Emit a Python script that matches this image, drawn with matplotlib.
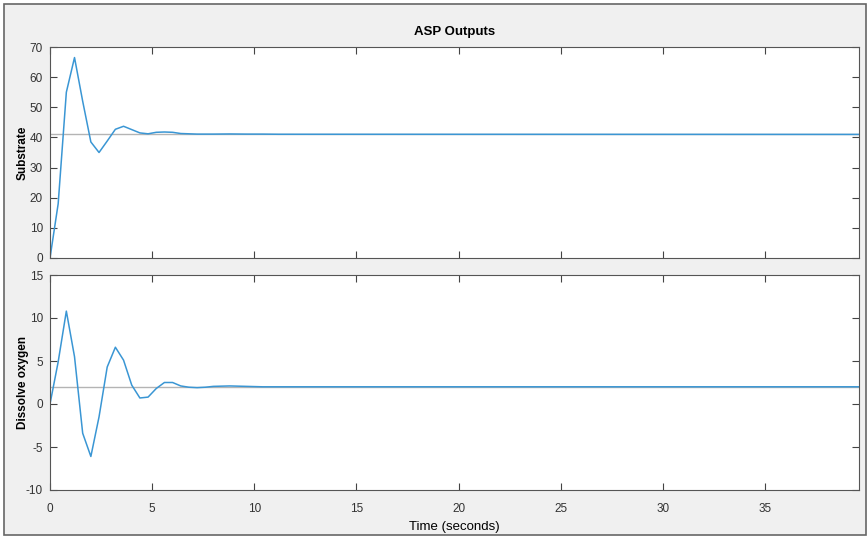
import matplotlib.pyplot as plt
from matplotlib.patches import Rectangle

# Simulation output (time step ~0.4 s)
time_s = [0, 0.4, 0.8, 1.2, 1.6, 2.0, 2.4, 2.8, 3.2, 3.6, 4.0, 4.4, 4.8, 5.2,
          5.6, 6.0, 6.4, 6.8, 7.2, 7.6, 8.0, 8.8, 9.6, 10.4, 11.2, 39.6]
substrate = [0, 18, 55, 66.5, 52, 38.5, 35, 38.8, 42.7, 43.7, 42.6, 41.5, 41.2, 41.7,
             41.8, 41.7, 41.3, 41.2, 41.1, 41.1, 41.1, 41.15, 41.1, 41.1, 41.05, 41.0]
oxygen = [0, 4.9, 10.8, 5.5, -3.4, -6.1, -1.5, 4.3, 6.6, 5.1, 2.2, 0.7, 0.8, 1.8,
          2.5, 2.5, 2.1, 1.95, 1.9, 1.95, 2.05, 2.1, 2.05, 2.0, 2.0, 2.0]
substrate_ref = 41.0
oxygen_ref = 2.0
xticks = [0, 5, 10, 15, 20, 25, 30, 35]

plt.rcParams['font.family'] = ['Liberation Sans', 'DejaVu Sans']
plt.rcParams['axes.unicode_minus'] = False

fig = plt.figure(figsize=(8.68, 5.37), dpi=100, facecolor='white')
fig.patches.append(Rectangle((4 / 868, 2 / 537), 862 / 868, 531 / 537,
                             transform=fig.transFigure, facecolor='#f0f0f0',
                             edgecolor='#666666', linewidth=1.2, zorder=-1))

ax_top = fig.add_axes([50 / 868, 1 - 258 / 537, 809 / 868, 211 / 537])
ax_bot = fig.add_axes([50 / 868, 1 - 490 / 537, 809 / 868, 215 / 537])

line_c = '#3a96d4'
ref_c = '#b4b4b4'

ax_top.axhline(substrate_ref, color=ref_c, linewidth=1)
ax_top.plot(time_s, substrate, color=line_c, linewidth=1.1)
ax_top.set_ylim(0, 70)
ax_top.set_yticks(range(0, 71, 10))
ax_top.set_ylabel('Substrate', fontweight='bold', fontsize=8.5)
ax_top.set_title('ASP Outputs', fontweight='bold', fontsize=9.5, pad=9)

ax_bot.axhline(oxygen_ref, color=ref_c, linewidth=1)
ax_bot.plot(time_s, oxygen, color=line_c, linewidth=1.1)
ax_bot.set_ylim(-10, 15)
ax_bot.set_yticks(range(-10, 16, 5))
ax_bot.set_ylabel('Dissolve oxygen', fontweight='bold', fontsize=8.5)
ax_bot.set_xlabel('Time (seconds)', fontsize=9.5, labelpad=5)

for ax in (ax_top, ax_bot):
    ax.set_xlim(0, 39.6)
    ax.set_xticks(xticks)
    ax.tick_params(direction='in', top=True, right=True, length=5, width=0.8,
                   color='#444444', labelsize=8.5, labelcolor='#333333')
    ax.tick_params(axis='x', pad=9)
    ax.tick_params(axis='y', pad=5)
    for s in ax.spines.values():
        s.set_color('#555555')
        s.set_linewidth(0.8)
    ax.yaxis.set_label_coords(-0.026, 0.5)

ax_top.tick_params(labelbottom=False)

fig.savefig('out.png', dpi=100)
